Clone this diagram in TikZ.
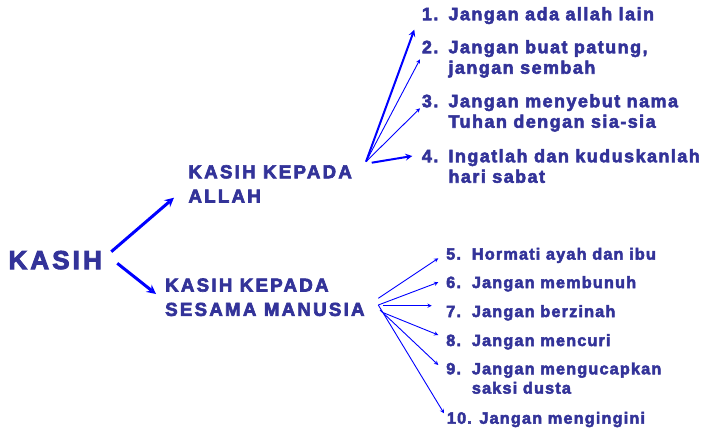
\documentclass[tikz,border=0pt]{standalone}
\usepackage{fontspec}
\usepackage{tikz}
\usetikzlibrary{arrows}
\newfontfamily\kasihfont[LetterSpace=12,FakeBold=3.5]{Liberation Sans Bold}
\newfontfamily\hukumfont[LetterSpace=8,FakeBold=3]{Liberation Sans Bold}
\newfontfamily\sesamafont[LetterSpace=7,FakeBold=3]{Liberation Sans Bold}
\definecolor{tinta}{RGB}{51,51,153}
\definecolor{panah}{RGB}{0,0,255}
\newcommand{\nomorA}[1]{\makebox[26.6pt][l]{#1}}
\newcommand{\nomorB}[1]{\makebox[25.7pt][l]{#1}}

\begin{document}
\begin{tikzpicture}[>=stealth, x=1pt, y=-1pt]
	\tikzstyle{teks} = [anchor=north west, inner sep=0pt, align=left, text=tinta]
	\tikzstyle{besar} = [teks, font=\kasihfont\fontsize{26}{30}\selectfont]
	\tikzstyle{judul} = [teks, font=\kasihfont\fontsize{18.7}{24.3}\selectfont]
	\tikzstyle{atas} = [teks, font=\hukumfont\fontsize{18}{20.5}\selectfont]
	\tikzstyle{bawah} = [teks, font=\sesamafont\fontsize{16.3}{19.3}\selectfont]
	\tikzstyle{utama} = [draw=panah, line width=3pt]
	\tikzstyle{tebal} = [draw=panah, line width=2pt]
	\tikzstyle{tipis} = [draw=panah, line width=0.9pt]

	\useasboundingbox (0,0) rectangle (710,431);

	% kasih dan dua cabangnya
	\node[besar] (kasih) at (8.3,250.7) {KASIH};
	\node[judul] (allah) at (188.3,165) {KASIH KEPADA\\ALLAH};
	\node[judul] (sesama) at (165,278.3) {KASIH KEPADA\\SESAMA MANUSIA};
	\coordinate (fanA) at (366,161.7);
	\coordinate (fanB) at (378.3,305);

	% hukum 1-4
	\node[atas] (h1) at (421.7,7) {\nomorA{1.}Jangan ada allah lain};
	\node[atas] (h2) at (421.7,40) {\nomorA{2.}Jangan buat patung,\\\hspace*{26.6pt}jangan sembah};
	\node[atas] (h3) at (421.7,94) {\nomorA{3.}Jangan menyebut nama\\\hspace*{26.6pt}Tuhan dengan sia-sia};
	\node[atas] (h4) at (421.7,149) {\nomorA{4.}Ingatlah dan kuduskanlah\\\hspace*{26.6pt}hari sabat};

	% hukum 5-10
	\node[bawah] (b5) at (446,247.6) {\nomorB{5.}Hormati ayah dan ibu};
	\node[bawah] (b6) at (446,276) {\nomorB{6.}Jangan membunuh};
	\node[bawah] (b7) at (446,305) {\nomorB{7.}Jangan berzinah};
	\node[bawah] (b8) at (446,334) {\nomorB{8.}Jangan mencuri};
	\node[bawah] (b9) at (446,362.3) {\nomorB{9.}Jangan mengucapkan\\\hspace*{25.7pt}saksi dusta};
	\node[bawah] (b10) at (446.7,411.7) {10. Jangan mengingini};

	\path[->]
	([shift={(9.2,1)}]kasih.north east) edge[utama] ([shift={(-14.3,32.7)}]allah.north west)
	([shift={(15.2,12.6)}]kasih.north east) edge[utama] ([shift={(-9,15.7)}]sesama.north west)
	(fanA) edge[tebal] ([shift={(-7.4,22.7)}]h1.north west)
	(fanA) edge[tipis] ([shift={(-1.7,19.3)}]h2.north west)
	(fanA) edge[tipis] ([shift={(-1.7,14.3)}]h3.north west)
	([shift={(5.7,1)}]fanA) edge[tebal] ([shift={(-9.4,7)}]h4.north west)
	([shift={(0,-6.7)}]fanB) edge[tipis] ([shift={(-7.7,10.7)}]b5.north west)
	(fanB) edge[tipis] ([shift={(-7.7,6.3)}]b6.north west)
	([shift={(5,0.7)}]fanB) edge[tipis] ([shift={(-14.3,0.7)}]b7.north west)
	([shift={(5,7.7)}]fanB) edge[tipis] ([shift={(-7.7,1)}]b8.north west)
	([shift={(1.7,5)}]fanB) edge[tipis] ([shift={(-7.7,2.7)}]b9.north west)
	(fanB) edge[tipis] ([shift={(-2.7,1.6)}]b10.north west)
	;
\end{tikzpicture}
\end{document}
